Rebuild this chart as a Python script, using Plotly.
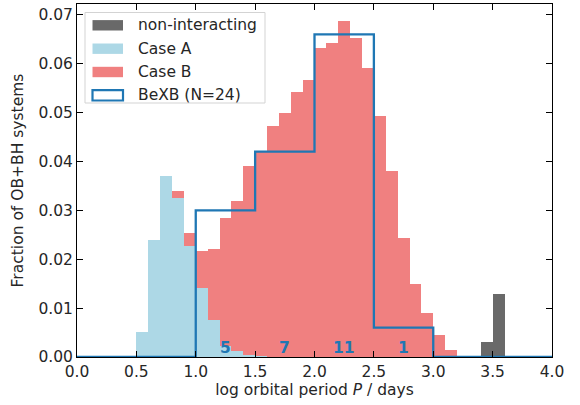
import plotly.graph_objects as go

# ---------------- data ----------------
nonint_x = [3.45, 3.55]
nonint_frac = [0.0031, 0.0128]

caseA_x = [0.55, 0.65, 0.75, 0.85, 0.95, 1.05, 1.15, 1.25, 1.35, 1.45, 1.55]
caseA_frac = [0.0052, 0.0240, 0.0370, 0.0326, 0.0228, 0.0142, 0.0075, 0.0022, 0.0012, 0.0005, 0.0002]

caseB_x = [0.85, 0.95, 1.05, 1.15, 1.25, 1.35, 1.45, 1.55, 1.65, 1.75, 1.85, 1.95,
           2.05, 2.15, 2.25, 2.35, 2.45, 2.55, 2.65, 2.75, 2.85, 2.95, 3.05, 3.15]
caseB_frac = [0.0013, 0.0025, 0.0074, 0.0145, 0.0263, 0.0307, 0.0385, 0.0419, 0.0472, 0.0500, 0.0542, 0.0567,
              0.0632, 0.0643, 0.0688, 0.0653, 0.0591, 0.0492, 0.0381, 0.0244, 0.0150, 0.0090, 0.0044, 0.0014]

bexb_edges = [0.0, 0.5, 1.0, 1.5, 2.0, 2.5, 3.0, 3.5, 4.0]
bexb_frac = [0.0, 0.0, 0.030, 0.042, 0.066, 0.006, 0.0, 0.0]
bexb_count_x = [1.25, 1.75, 2.25, 2.75]
bexb_counts = ["5", "7", "11", "1"]

legend_labels = ["non-interacting", "Case A", "Case B", "BeXB (N=24)"]
x_ticks = [0.0, 0.5, 1.0, 1.5, 2.0, 2.5, 3.0, 3.5, 4.0]
y_ticks = [0.00, 0.01, 0.02, 0.03, 0.04, 0.05, 0.06, 0.07]

# ---------------- style ----------------
C_NON = "#696969"
C_A = "#add8e6"
C_B = "#f08080"
C_BE = "#1f77b4"
FONT = "DejaVu Sans"
FS = 15.5
TXT = "#262626"

W, H = 580, 405
ML, MR, MT, MB = 77, 28, 4, 48
PW, PH = W - ML - MR, H - MT - MB


def px2paper(px, py):
    return (px - ML) / PW, (H - MB - py) / PH


fig = go.Figure()
for xs, ys, col, name in [(nonint_x, nonint_frac, C_NON, legend_labels[0]),
                          (caseA_x, caseA_frac, C_A, legend_labels[1]),
                          (caseB_x, caseB_frac, C_B, legend_labels[2])]:
    fig.add_trace(go.Bar(x=xs, y=ys, width=0.1, marker=dict(color=col, line=dict(width=0)),
                         name=name, showlegend=False))

fig.add_trace(go.Scatter(x=bexb_edges, y=bexb_frac + [bexb_frac[-1]], mode="lines",
                         line=dict(color=C_BE, width=2.3, shape="hv"),
                         name=legend_labels[3], showlegend=False))

for xc, t in zip(bexb_count_x, bexb_counts):
    fig.add_annotation(x=xc, y=0.0019, text="<b>%s</b>" % t, showarrow=False,
                       font=dict(family=FONT, size=FS, color=C_BE),
                       xanchor="center", yanchor="middle")

# ---------------- manual legend ----------------
shapes = []
bx0, by0 = px2paper(85, 103)
bx1, by1 = px2paper(265, 12.5)
shapes.append(dict(type="rect", xref="paper", yref="paper", x0=bx0, x1=bx1, y0=by0, y1=by1,
                   line=dict(color="#d3d3d3", width=1), fillcolor="rgba(255,255,255,0.85)", layer="above"))
row_y = [25.3, 48.7, 72.0, 95.3]
patch_cols = [C_NON, C_A, C_B, None]
for i, (ry, lab) in enumerate(zip(row_y, legend_labels)):
    px0, py0 = px2paper(92.5, ry + 5.2)
    px1, py1 = px2paper(123, ry - 5.2)
    if patch_cols[i] is not None:
        shapes.append(dict(type="rect", xref="paper", yref="paper", x0=px0, x1=px1, y0=py0, y1=py1,
                           line=dict(width=0), fillcolor=patch_cols[i], layer="above"))
    else:
        shapes.append(dict(type="rect", xref="paper", yref="paper", x0=px0, x1=px1, y0=py0, y1=py1,
                           line=dict(width=2.2, color=C_BE), fillcolor="white", layer="above"))
    tx, ty = px2paper(136, ry)
    fig.add_annotation(xref="paper", yref="paper", x=tx, y=ty, text=lab, showarrow=False,
                       xanchor="left", yanchor="middle",
                       font=dict(family=FONT, size=FS, color=TXT))

fig.update_layout(
    width=W, height=H,
    margin=dict(l=ML, r=MR, t=MT, b=MB, pad=0, autoexpand=False),
    paper_bgcolor="white", plot_bgcolor="white",
    barmode="stack", bargap=0,
    showlegend=False,
    shapes=shapes,
    font=dict(family=FONT, size=FS, color=TXT),
)
fig.update_xaxes(range=[0, 4], tickvals=x_ticks, ticktext=["%.1f" % v for v in x_ticks],
                 ticks="inside", ticklen=6, tickwidth=1, tickcolor="black",
                 showline=True, linecolor="black", linewidth=1, mirror="ticks",
                 showgrid=False, zeroline=False, automargin=False,
                 title=dict(text="log orbital period <i>P</i> / days", standoff=0,
                            font=dict(family=FONT, size=FS, color=TXT)),
                 tickfont=dict(family=FONT, size=FS, color=TXT))
fig.update_yaxes(range=[0, 0.0722], tickvals=y_ticks, ticktext=["%.2f" % v for v in y_ticks],
                 ticks="inside", ticklen=6, tickwidth=1, tickcolor="black",
                 showline=True, linecolor="black", linewidth=1, mirror="ticks",
                 showgrid=False, zeroline=False, automargin=False,
                 title=dict(text="Fraction of OB+BH systems", standoff=10,
                            font=dict(family=FONT, size=FS, color=TXT)),
                 tickfont=dict(family=FONT, size=FS, color=TXT))

fig.write_html("out.html", config={"displayModeBar": False},
               post_script="document.body.style.margin='0';document.body.style.padding='0';")
